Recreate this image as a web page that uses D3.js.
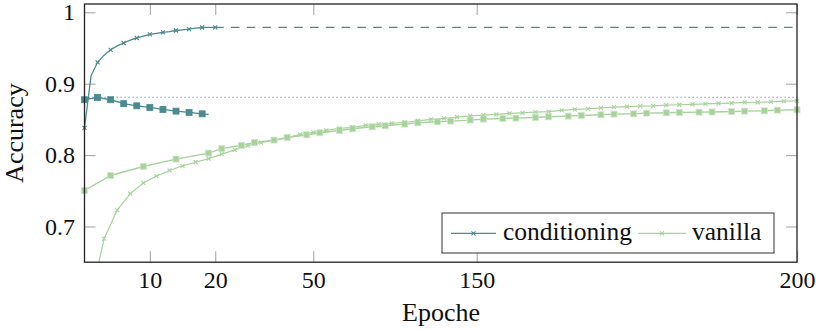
<!DOCTYPE html>
<html><head><meta charset="utf-8">
<script src="https://cdn.jsdelivr.net/npm/d3@7"></script>
<style>
body{margin:0;background:#fff}
svg{display:block}
</style>
</head><body>
<svg id="c" width="816" height="329"></svg>
<script>
// ---- data (x = logged step index, labelled with epochs on the axis) ----
const condTrainIdx = [0,1,2,3,4,5,6,7,8,9,10,11,12,13,14,15,16,17,18,19,20];
const condTrainAcc = [0.838,0.911,0.930,0.940,0.9475,0.953,0.957,0.961,0.964,0.9665,0.969,0.9705,0.972,0.973,0.9745,0.9755,0.9765,0.9777,0.9787,0.979,0.979];

const condTestIdx = [0,2,4,6,8,10,12,14,16,18,19];
const condTestAcc = [0.8775,0.8807,0.8775,0.872,0.869,0.8667,0.864,0.8616,0.8597,0.8578,0.857];

const vanTrainIdx = [1,2,3,5,7,9,11,13,15,17,19,21,23,25,27,29,31,33,35,37,39,41,43,45,47,49,51,53,55,57,59,61,63,65,67,69,71,73,75,77,79,81,83,85,87,89,91,93,95,97,99,101,103,105,107,109];
const vanTrainAcc = [0.55,0.642,0.683,0.723,0.746,0.761,0.7706,0.7785,0.785,0.790,0.795,0.8014,0.8074,0.8134,0.8176,0.8205,0.8245,0.829,0.8317,0.8345,0.8373,0.8387,0.8415,0.8434,0.8445,0.846,0.848,0.8499,0.8513,0.8532,0.855,0.856,0.8569,0.8583,0.8592,0.8602,0.861,0.8625,0.8639,0.8648,0.8662,0.8672,0.868,0.8686,0.869,0.870,0.8705,0.871,0.8718,0.8723,0.8728,0.8737,0.874,0.8746,0.8756,0.876];

const vanTestIdx = [0,4,9,14,19,21,24,26,29,31,34,36,39,41,44,46,49,51,54,56,59,61,64,66,69,71,74,76,79,81,84,86,89,91,94,96,99,101,104,106,109];
const vanTestAcc = [0.7504,0.7714,0.784,0.7944,0.8028,0.809,0.8137,0.8176,0.821,0.8247,0.8284,0.8312,0.8345,0.8368,0.8396,0.841,0.8434,0.8452,0.8466,0.8476,0.849,0.8504,0.8513,0.8518,0.8527,0.8536,0.8546,0.8555,0.8564,0.8574,0.8578,0.8588,0.8592,0.8597,0.8602,0.8604,0.861,0.8616,0.862,0.863,0.8634];

const condFinal = 0.979;      // dashed continuation
const refLevel = 0.881;       // dotted reference
const xTickIdx = [10,20,35,60,109];
const xTickLabels = ["10","20","50","150","200"];
const yTicks = [0.7,0.8,0.9,1];
const yTickLabels = ["0.7","0.8","0.9","1"];
const seriesNames = ["conditioning","vanilla"];

// ---- drawing ----
const FONT = "'Liberation Serif','Times New Roman',Tinos,'DejaVu Serif','Noto Serif',FreeSerif,'Nimbus Roman',Times,serif";
const TEAL = "#4a8a90", GREEN = "#a8d29c";
const svg = d3.select("#c");
const L = 84.5, R = 797, T = 4, B = 262.2;
const x = d3.scaleLinear().domain([0,109]).range([L,R]);
const y = d3.scaleLinear().domain([0.65,1.0116]).range([B,T]);

svg.append("defs").append("clipPath").attr("id","clip")
  .append("rect").attr("x",L).attr("y",T).attr("width",R-L).attr("height",B-T);

function styleTicks(g){
  g.attr("font-family",FONT);
  g.select(".domain").remove();
  g.selectAll(".tick line").attr("stroke","#aaa").attr("stroke-width",1.1);
  g.selectAll("text").attr("font-size",24).attr("fill","#111").style("font-family",FONT);
}
svg.append("g").attr("transform",`translate(0,${B})`)
  .call(d3.axisBottom(x).tickValues(xTickIdx).tickFormat((d,i)=>xTickLabels[i]).tickSizeInner(-11).tickSizeOuter(0).tickPadding(8.5))
  .call(styleTicks);
svg.append("g").attr("transform",`translate(0,${T})`)
  .call(d3.axisTop(x).tickValues(xTickIdx).tickFormat("").tickSizeInner(-11).tickSizeOuter(0))
  .call(styleTicks);
svg.append("g").attr("transform",`translate(${L},0)`)
  .call(d3.axisLeft(y).tickValues(yTicks).tickFormat((d,i)=>yTickLabels[i]).tickSizeInner(-11).tickSizeOuter(0).tickPadding(9.5))
  .call(styleTicks);
svg.append("g").attr("transform",`translate(${R},0)`)
  .call(d3.axisRight(y).tickValues(yTicks).tickFormat("").tickSizeInner(-11).tickSizeOuter(0))
  .call(styleTicks);

// reference lines
const plot = svg.append("g").attr("clip-path","url(#clip)");
plot.append("line").attr("x1",x(0)).attr("x2",x(109)).attr("y1",y(refLevel)).attr("y2",y(refLevel))
  .attr("stroke","#5f8f95").attr("stroke-width",1.1).attr("stroke-dasharray","1.2 2.8");
plot.append("line").attr("x1",x(20)).attr("x2",x(109)).attr("y1",y(condFinal)).attr("y2",y(condFinal))
  .attr("stroke",TEAL).attr("stroke-width",1.2).attr("stroke-dasharray","8.5 7.3");

const line = d3.line().x(d=>x(d[0])).y(d=>y(d[1]));
const zip = (a,b)=>a.map((v,i)=>[v,b[i]]);
const vanTest = zip(vanTestIdx,vanTestAcc), vanTrain = zip(vanTrainIdx,vanTrainAcc);
const condTest = zip(condTestIdx,condTestAcc), condTrain = zip(condTrainIdx,condTrainAcc);

plot.append("path").datum(vanTest).attr("d",line).attr("fill","none").attr("stroke","#a8d29c").attr("stroke-width",1.4);
plot.append("path").datum(vanTrain).attr("d",line).attr("fill","none").attr("stroke",GREEN).attr("stroke-width",1.2);
plot.append("path").datum(condTest).attr("d",line).attr("fill","none").attr("stroke",TEAL).attr("stroke-width",1.3);
plot.append("path").datum(condTrain).attr("d",line).attr("fill","none").attr("stroke",TEAL).attr("stroke-width",1.3);

const inY = d=>d[1]>=0.65 && d[1]<=1.0116;
function squares(data,color,stroke){
  svg.append("g").selectAll("rect").data(data.filter(inY)).join("rect")
    .attr("x",d=>x(d[0])-3).attr("y",d=>y(d[1])-3).attr("width",6).attr("height",6)
    .attr("fill",color).attr("stroke",stroke).attr("stroke-width",0.8);
}
function crosses(data,color){
  svg.append("g").selectAll("path").data(data.filter(inY)).join("path")
    .attr("transform",d=>`translate(${x(d[0])},${y(d[1])})`)
    .attr("d","M-2,-2L2,2M-2,2L2,-2").attr("stroke",color).attr("stroke-width",1.1).attr("fill","none");
}
squares(vanTest,GREEN,"#cfe6c9");
crosses(vanTrain.filter(d=>d[0]%2===1),GREEN);
squares(condTest.filter(d=>d[0]%2===0),TEAL,TEAL);
crosses(condTrain.filter(d=>d[0]%2===0),TEAL);

// frame
svg.append("rect").attr("x",L).attr("y",T).attr("width",R-L).attr("height",B-T)
  .attr("fill","none").attr("stroke","#222").attr("stroke-width",1.3);

// axis labels
svg.append("text").attr("x",441).attr("y",321).attr("text-anchor","middle").attr("font-size",26)
  .style("font-family",FONT).attr("fill","#111").text("Epoche");
svg.append("text").attr("transform",`translate(23,${(T+B)/2}) rotate(-90)`).attr("text-anchor","middle").attr("font-size",26)
  .style("font-family",FONT).attr("fill","#111").text("Accuracy");

// legend
const lg = svg.append("g");
lg.append("rect").attr("x",442).attr("y",213).attr("width",332).attr("height",40).attr("fill","#fff").attr("stroke","#444").attr("stroke-width",1.1);
const entries = [{name:seriesNames[0],color:TEAL,x0:451,x1:496,tx:503},{name:seriesNames[1],color:GREEN,x0:638,x1:686,tx:692}];
entries.forEach(e=>{
  lg.append("line").attr("x1",e.x0).attr("x2",e.x1).attr("y1",233.3).attr("y2",233.3).attr("stroke",e.color).attr("stroke-width",1.3);
  lg.append("path").attr("transform",`translate(${(e.x0+e.x1)/2},233.3)`).attr("d","M-2,-2L2,2M-2,2L2,-2").attr("stroke",e.color).attr("stroke-width",1.1);
  lg.append("text").attr("x",e.tx).attr("y",240).attr("font-size",25.5).style("font-family",FONT).attr("fill","#111").text(e.name);
});
</script>
</body></html>
